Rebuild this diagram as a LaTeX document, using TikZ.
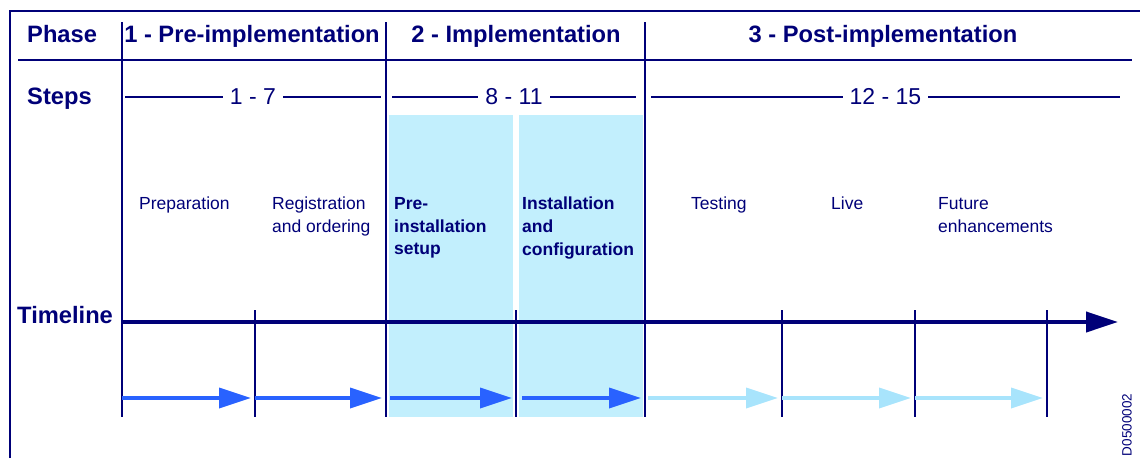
\documentclass[tikz,border=0pt]{standalone}
\usepackage{fontspec}
\setmainfont{Liberation Sans}
\usetikzlibrary{arrows.meta,positioning}

\definecolor{navy}{RGB}{0,0,120}
\definecolor{stepblue}{RGB}{41,98,255}
\definecolor{paleblue}{RGB}{168,228,252}
\definecolor{colcyan}{RGB}{194,239,253}

\begin{document}
\begin{tikzpicture}[
    x=1pt, y=-1pt,
    every node/.style={text=navy, inner sep=0pt},
    heading/.style={font=\fontsize{23.7}{28}\selectfont\bfseries, anchor=base},
    stepnums/.style={font=\fontsize{23}{27}\selectfont, fill=white, inner xsep=7pt},
    stepname/.style={font=\fontsize{17.5}{22.8}\selectfont, align=left, anchor=north west},
    divider/.style={draw=navy, line width=1.3pt},
    mainarrow/.style={navy, line width=4pt, -{Triangle[length=32pt,width=20pt]}},
    steparrow/.style={line width=3.5pt, -{Triangle[length=32pt,width=20pt]}, shorten >=4pt}
]
\useasboundingbox (0,0) rectangle (1140,458);

% implementation phase columns
\fill[colcyan] (389,115) rectangle (513,417);
\fill[colcyan] (519,115) rectangle (643,417);

% frame and grid
\draw[divider] (10,458) -- (10,11) -- (1140,11);
\draw[divider] (18,60) -- (1132,60);
\foreach \x in {122,386,645}
    \draw[divider] (\x,22) -- (\x,417);
\foreach \x/\w in {255/1.3,386/2.2,516/2.2,782/1.3,915/1.3,1047/1.3}
    \draw[divider, line width=\w pt] (\x,310) -- (\x,417);

% row headings
\node[heading, anchor=base west] (phase) at (27,42) {Phase};
\node[heading, anchor=base west] (steps) at (27,104) {Steps};
\node[heading, anchor=base west] (timeline) at (17,323) {Timeline};

% phases
\node[heading] (pre) at (252,42) {1 - Pre-implementation};
\node[heading] (impl) at (516,42) {2 - Implementation};
\node[heading] (post) at (883,42) {3 - Post-implementation};

% step ranges
\draw[navy, line width=1.2pt] (125,97) -- node[stepnums] (range1) {1 - 7} (381,97);
\draw[navy, line width=1.2pt] (392,97) -- node[stepnums] (range2) {8 - 11} (636,97);
\draw[navy, line width=1.2pt] (651,97) -- node[stepnums] (range3) {12 - 15} (1120,97);

% step names
\node[stepname] (prep) at (139,197) {Preparation};
\node[stepname] (reg) at (272,197) {Registration\\and ordering};
\node[stepname, font=\fontsize{17.5}{22.8}\selectfont\bfseries] (setup) at (394,197) {Pre-\\installation\\setup};
\node[stepname, font=\fontsize{17.5}{22.8}\selectfont\bfseries] (install) at (522,197) {Installation\\and\\configuration};
\node[stepname] (test) at (691,197) {Testing};
\node[stepname] (live) at (831,197) {Live};
\node[stepname] (future) at (938,197) {Future\\enhancements};

% timeline
\coordinate (tstart) at (122,322);
\coordinate (tend) at (1118,322);
\draw[mainarrow] (tstart) -- (tend);

% step arrows
\foreach \x [count=\i] in {122,255,386,516,645,782,915,1047}
    \coordinate (t\i) at (\x,398);
\foreach \a/\b/\c/\s in {1/2/stepblue/0, 2/3/stepblue/0, 3/4/stepblue/4, 4/5/stepblue/6,
                         5/6/paleblue/3, 6/7/paleblue/0, 7/8/paleblue/0}
    \draw[steparrow, \c, shorten <=\s pt] (t\a) -- (t\b);

\node[rotate=90, font=\fontsize{13.5}{15}\selectfont] (code) at (1127,425) {D0500002};
\end{tikzpicture}
\end{document}
